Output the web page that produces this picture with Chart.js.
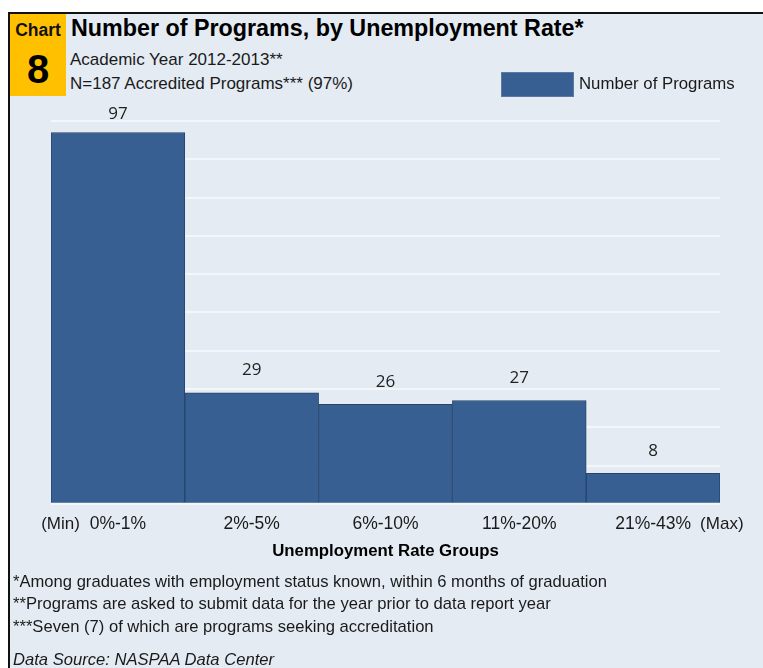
<!DOCTYPE html>
<html>
<head>
<meta charset="utf-8">
<script src="https://cdn.jsdelivr.net/npm/chart.js@4.4.1/dist/chart.umd.min.js"></script>
<style>
  body { margin: 0; background: #fff; font-family: "Liberation Sans", Arial, sans-serif; }
  #page { position: relative; width: 763px; height: 668px; overflow: hidden; }
  #frame { position: absolute; left: 8px; top: 12px; width: 760px; height: 660px;
    background: #E4EBF3; border-left: 2px solid #111; border-top: 2px solid #111; box-sizing: border-box; }
  #badge { position: absolute; left: 10px; top: 14px; width: 56px; height: 82px; background: #FFC000; text-align: center; }
  #badge .lbl { font-weight: bold; font-size: 17.5px; margin-top: 6px; color: #111; }
  #badge .num { font-weight: bold; font-size: 40px; margin-top: 5px; color: #000; line-height: 46px; }
  .txt { position: absolute; color: #1a1a1a; white-space: nowrap; }
  #chart { position: absolute; left: 0; top: 0; }
</style>
</head>
<body>
<div id="page">
  <div id="frame"></div>
  <div id="badge"><div class="lbl">Chart</div><div class="num">8</div></div>
  <div class="txt" style="left:71px; top:15px; font-size:23.3px; font-weight:bold; color:#000;">Number of Programs, by Unemployment Rate*</div>
  <div class="txt" style="left:70px; top:50px; font-size:17px;">Academic Year 2012-2013**</div>
  <div class="txt" style="left:70px; top:74px; font-size:17px;">N=187 Accredited Programs*** (97%)</div>
  <canvas id="chart" width="763" height="668"></canvas>
  <div class="txt" style="left:13px; top:572px; font-size:16.6px;">*Among graduates with employment status known, within 6 months of graduation</div>
  <div class="txt" style="left:13px; top:594px; font-size:16.6px;">**Programs are asked to submit data for the year prior to data report year</div>
  <div class="txt" style="left:13px; top:617px; font-size:16.6px;">***Seven (7) of which are programs seeking accreditation</div>
  <div class="txt" style="left:13px; top:650px; font-size:16.6px; font-style:italic;">Data Source: NASPAA Data Center</div>
  <div class="txt" style="left:501px; top:72px; width:73px; height:25px; background:#375F91; border:1px solid #5a7aa3; box-sizing:border-box;"></div>
  <div class="txt" style="left:579px; top:74px; font-size:16.8px;">Number of Programs</div>
</div>
<script>
const categories = ["0%-1%", "2%-5%", "6%-10%", "11%-20%", "21%-43%"];
const programs = [97, 29, 26, 27, 8];
const seriesName = "Number of Programs";
const axisTitle = "Unemployment Rate Groups";

// value labels above bars + (Min)/(Max) tags beside the end labels
const extrasPlugin = {
  id: "extras",
  afterDatasetsDraw(chart) {
    const ctx = chart.ctx;
    const meta = chart.getDatasetMeta(0);
    const top = chart.chartArea.top;
    ctx.save();
    ctx.fillStyle = "#222";
    ctx.font = "17px 'Open Sans', sans-serif";
    ctx.textAlign = "center";
    ctx.textBaseline = "bottom";
    meta.data.forEach((bar, i) => {
      ctx.fillText(programs[i], bar.x, Math.max(bar.y - 14, top + 2));
    });
    const xs = chart.scales.x;
    const y = xs.top + 20;
    ctx.fillStyle = "#1a1a1a";
    ctx.font = "17px 'Liberation Sans', Arial, sans-serif";
    ctx.textBaseline = "middle";
    ctx.textAlign = "right";
    ctx.fillText("(Min)", xs.getPixelForValue(0) - 38, y);
    ctx.textAlign = "left";
    ctx.fillText("(Max)", xs.getPixelForValue(categories.length - 1) + 47, y);
    ctx.restore();
  }
};

new Chart(document.getElementById("chart"), {
  type: "bar",
  data: {
    labels: categories,
    datasets: [{
      label: seriesName,
      data: programs,
      backgroundColor: "#375F91",
      borderColor: "#26446C",
      borderWidth: 1,
      barPercentage: 1,
      categoryPercentage: 1
    }]
  },
  options: {
    responsive: false,
    animation: false,
    layout: { padding: { left: 51, right: 43, top: 121, bottom: 107 } },
    plugins: {
      legend: { display: false },
      tooltip: { enabled: false }
    },
    scales: {
      x: {
        grid: { display: false, drawTicks: false },
        border: { display: false },
        ticks: { color: "#1a1a1a", font: { family: "'Liberation Sans', Arial, sans-serif", size: 17.5 }, padding: 10 },
        title: { display: true, text: axisTitle, color: "#000", padding: { top: -4, bottom: 0 },
          font: { family: "'Liberation Sans', Arial, sans-serif", size: 16.8, weight: "bold" } }
      },
      y: {
        min: 0, max: 100,
        ticks: { display: false, stepSize: 10 },
        border: { display: false },
        grid: { color: "#F3F6FA", lineWidth: 2, drawTicks: false }
      }
    }
  },
  plugins: [extrasPlugin]
});
</script>
</body>
</html>
